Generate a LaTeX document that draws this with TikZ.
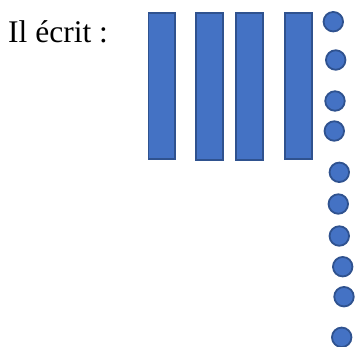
\documentclass[tikz,border=0pt]{standalone}
\usepackage{fontspec}
\setmainfont{Liberation Serif}
\definecolor{fillblue}{HTML}{4472C4}
\definecolor{edgeblue}{HTML}{2F528F}
\begin{document}
\begin{tikzpicture}[x=1pt,y=-1pt,
  bar/.style={draw=edgeblue,fill=fillblue,line width=1.8pt},
  unit/.style={circle,draw=edgeblue,fill=fillblue,line width=1.8pt,minimum size=19.5pt,inner sep=0pt}]
\useasboundingbox (0,0) rectangle (355,346);
\node[anchor=base west,inner sep=0pt,font=\fontsize{31.5}{36}\selectfont] (t) at (8,42.5) {Il écrit :};
\draw[bar] (148.5,12.7) rectangle (175,159) coordinate (b1);
\draw[bar] (196,13.3) rectangle (222.7,160) coordinate (b2);
\draw[bar] (236,13.3) rectangle (262.7,160) coordinate (b3);
\draw[bar] (285,13.3) rectangle (311.7,159.3) coordinate (b4);
\node[unit] (c1) at (333.3,21.7) {};
\node[unit] (c2) at (335.7,60) {};
\node[unit] (c3) at (335,101) {};
\node[unit] (c4) at (334.3,131) {};
\node[unit] (c5) at (339.3,172.3) {};
\node[unit] (c6) at (338.3,204) {};
\node[unit] (c7) at (339.3,236) {};
\node[unit] (c8) at (342.7,266.7) {};
\node[unit] (c9) at (344,296.7) {};
\node[unit] (c10) at (341.7,337.3) {};
\end{tikzpicture}
\end{document}
